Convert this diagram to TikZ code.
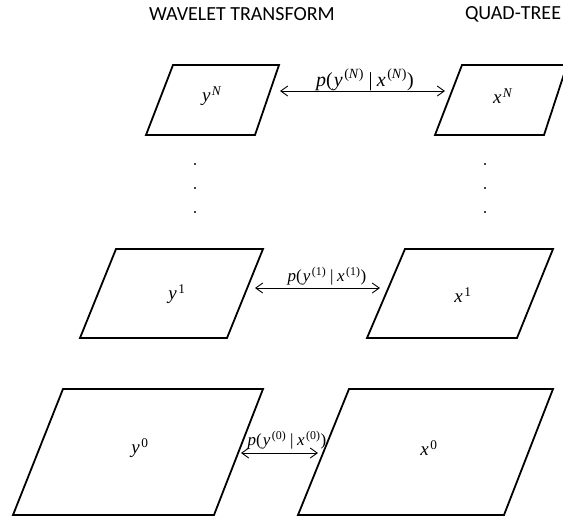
\documentclass[tikz,border=0pt]{standalone}
\usepackage{fontspec}
\setmainfont{Liberation Serif}
\newfontfamily\headfont{Carlito}
\usepackage{tikz}
\usetikzlibrary{arrows.meta}
\tikzset{
  plane/.style={draw=black, line width=1.8pt, line join=miter},
  link/.style={{Straight Barb[length=7pt,width=10pt]}-{Straight Barb[length=7pt,width=10pt]}, line width=0.9pt},
  head/.style={font=\headfont\fontsize{20}{24}\selectfont},
  lvl/.style={font=\fontsize{19}{22}\selectfont},
  cond/.style={font=\fontsize{17}{20}\selectfont, inner sep=1pt},
  condtop/.style={cond, font=\fontsize{20}{24}\selectfont}
}
\newcommand{\lvlsup}[2]{\textit{#1}\kern1.5pt\textsuperscript{#2}}
\newcommand{\pcond}[1]{\textit{p}(\kern1pt\lvlsup{y}{(#1)}\hspace{0.22em}|\hspace{0.22em}\lvlsup{x}{(#1)})}

\begin{document}
\begin{tikzpicture}[x=1pt, y=-1pt]
  \useasboundingbox (0,0) rectangle (563,520);

  % column titles
  \node[head] (wt) at (242,14) {WAVELET TRANSFORM};
  \node[head] (qt) at (513,14) {QUAD-TREE};

  % level N
  \draw[plane] (173,65) -- (279,65) -- (255,135) -- (146,135) -- cycle;
  \draw[plane] (462,65) -- (567,65) -- (544,135) -- (435,135) -- cycle;
  \node[lvl] (yN) at (212,96) {\lvlsup{y}{\textit{N}}};
  \node[lvl] (xN) at (503,96) {\lvlsup{x}{\textit{N}}};
  \coordinate (aN-l) at (280,91);
  \coordinate (aN-r) at (445,91);
  \draw[link] (aN-l) -- (aN-r);
  \node[condtop] (pN) at (365,80) {\pcond{\textit{N}}};

  % dots between levels
  \fill (195,164) circle (1.1pt) (195,188) circle (1.1pt) (195,212) circle (1.1pt);
  \fill (485,164) circle (1.1pt) (485,188) circle (1.1pt) (485,212) circle (1.1pt);

  % level 1
  \draw[plane] (116,249) -- (263,249) -- (227,338) -- (80,338) -- cycle;
  \draw[plane] (405,249) -- (553,249) -- (517,338) -- (367,338) -- cycle;
  \node[lvl] (y1) at (177,294) {\lvlsup{y}{1}};
  \node[lvl] (x1) at (463,295) {\lvlsup{x}{1}};
  \coordinate (a1-l) at (255,288);
  \coordinate (a1-r) at (380,288);
  \draw[link] (a1-l) -- (a1-r);
  \node[cond] (p1) at (327,276) {\pcond{1}};

  % level 0
  \draw[plane] (63,389) -- (263,389) -- (214,515) -- (13,515) -- cycle;
  \draw[plane] (349,389) -- (553,389) -- (504,515) -- (298,515) -- cycle;
  \node[lvl] (y0) at (140,448) {\lvlsup{y}{0}};
  \node[lvl] (x0) at (429,448) {\lvlsup{x}{0}};
  \coordinate (a0-l) at (241,453);
  \coordinate (a0-r) at (318,453);
  \draw[link] (a0-l) -- (a0-r);
  \node[cond] (p0) at (287,440) {\pcond{0}};
\end{tikzpicture}
\end{document}
